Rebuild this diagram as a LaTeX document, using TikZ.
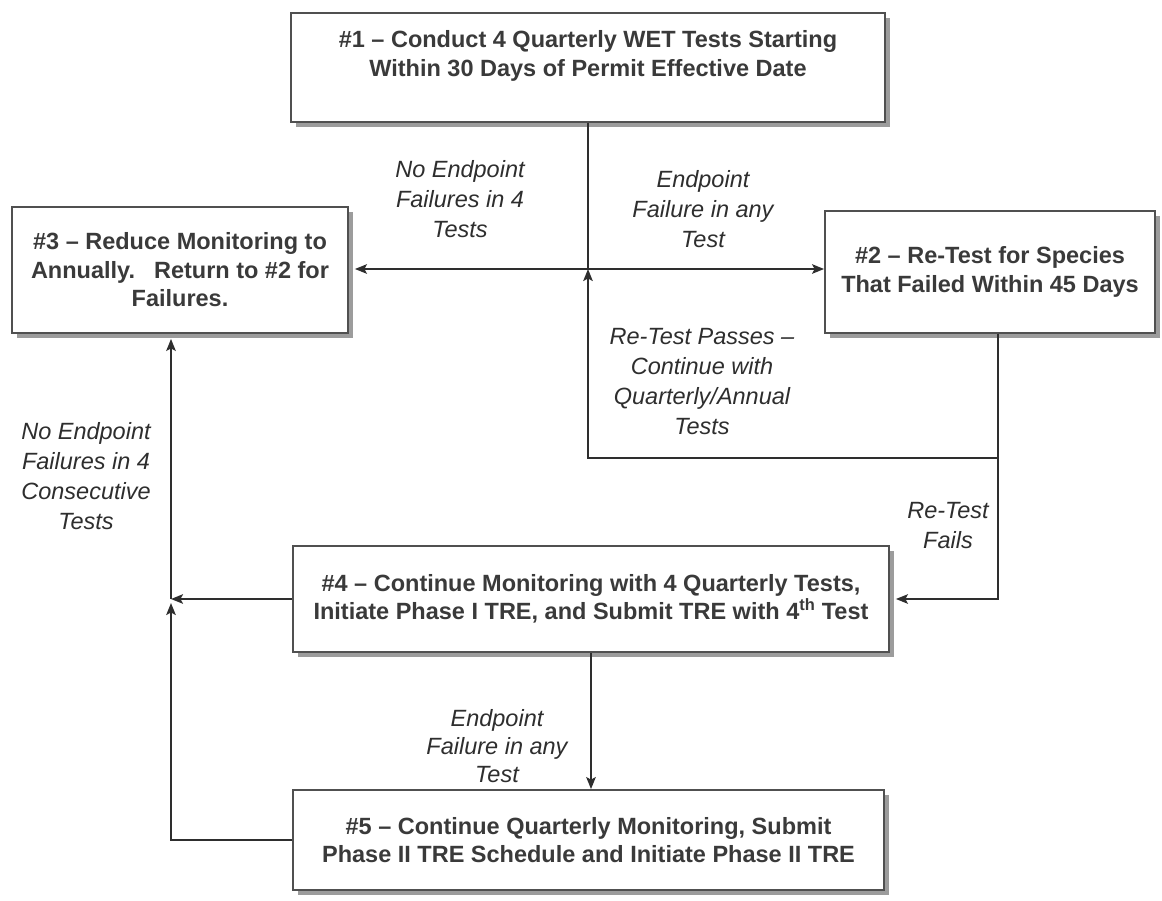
\documentclass[tikz,border=0pt]{standalone}
\usepackage{fontspec}
\setmainfont{Liberation Sans}
\usetikzlibrary{arrows.meta,shadows}
\definecolor{ink}{HTML}{2E2E2E}
\definecolor{boxink}{HTML}{3A3A3A}
\definecolor{edge}{HTML}{505050}
\definecolor{shade}{HTML}{9C9C9C}
\begin{document}
\begin{tikzpicture}[x=1pt,y=-1pt,
  boxfont/.style={inner sep=0pt, align=center, text=boxink, font=\bfseries\fontsize{23.5}{28.5}\selectfont},
  box/.style={boxfont, draw=edge, line width=1.8pt, fill=white,
    drop shadow={shadow xshift=5pt, shadow yshift=-5pt, fill=shade, opacity=1}},
  lbl/.style={inner sep=0pt, align=center, text=ink, font=\itshape\fontsize{23.5}{30}\selectfont},
  conn/.style={draw=ink, line width=1.8pt},
  arr/.style={conn, -{Stealth[length=12pt,width=9.5pt,inset=2.5pt]}},
  darr/.style={conn, {Stealth[length=12pt,width=9.5pt,inset=2.5pt]}-{Stealth[length=12pt,width=9.5pt,inset=2.5pt]}}
]
\fill[white] (0,0) rectangle (1162,900);
\useasboundingbox (0,0) rectangle (1162,900);

% boxes
\node[box, minimum width=594pt, minimum height=109pt] (b1) at (588,67.5) {};
\node[boxfont] (t1) at (588,56) {\#1 – Conduct 4 Quarterly WET Tests Starting\\Within 30 Days of Permit Effective Date};
\node[box, minimum width=330pt, minimum height=122pt] (b2) at (990,272) {\#2 – Re-Test for Species\\That Failed Within 45 Days};
\node[box, minimum width=336pt, minimum height=126pt] (b3) at (180,270) {\#3 – Reduce Monitoring to\\Annually.\hspace{19pt}Return to \#2 for\\Failures.};
\node[box, minimum width=596pt, minimum height=106pt] (b4) at (591,599) {\#4 – Continue Monitoring with 4 Quarterly Tests,\\Initiate Phase I TRE, and Submit TRE with 4\textsuperscript{th} Test};
\node[box, minimum width=591pt, minimum height=100pt] (b5) at (588.5,840) {\#5 – Continue Quarterly Monitoring, Submit\\Phase II TRE Schedule and Initiate Phase II TRE};

% junctions
\coordinate (j1) at (588,269);
\coordinate (c1) at (998,458);
\coordinate (c2) at (171,599);

% connectors
\draw[conn] (b1.south) -- (j1);
\draw[darr] ([xshift=6pt]b3.east |- j1) -- (b2.west |- j1);
\draw[conn] (c1 |- b2.south) -- (c1);
\draw[arr] (c1) -| (j1);
\draw[arr] (c1) |- ([xshift=6pt]b4.east);
\draw[arr] (b4.west) -- (c2);
\draw[arr] (b5.west) -| ([yshift=-4pt]c2);
\draw[arr] (c2) -- ([yshift=-5pt]b3.south -| c2);
\draw[arr] (b4.south) -- (b4.south |- b5.north);

% labels
\node[lbl] (l1) at (460,199) {No Endpoint\\Failures in 4\\Tests};
\node[lbl] (l2) at (703,209) {Endpoint\\Failure in any\\Test};
\node[lbl] (l3) at (702,382) {Re-Test Passes –\\Continue with\\Quarterly/Annual\\Tests};
\node[lbl] (l4) at (86,476) {No Endpoint\\Failures in 4\\Consecutive\\Tests};
\node[lbl] (l5) at (948,526) {Re-Test\\Fails};
\node[lbl, font=\itshape\fontsize{23.5}{28}\selectfont] (l6) at (497,746) {Endpoint\\Failure in any\\Test};
\end{tikzpicture}
\end{document}
